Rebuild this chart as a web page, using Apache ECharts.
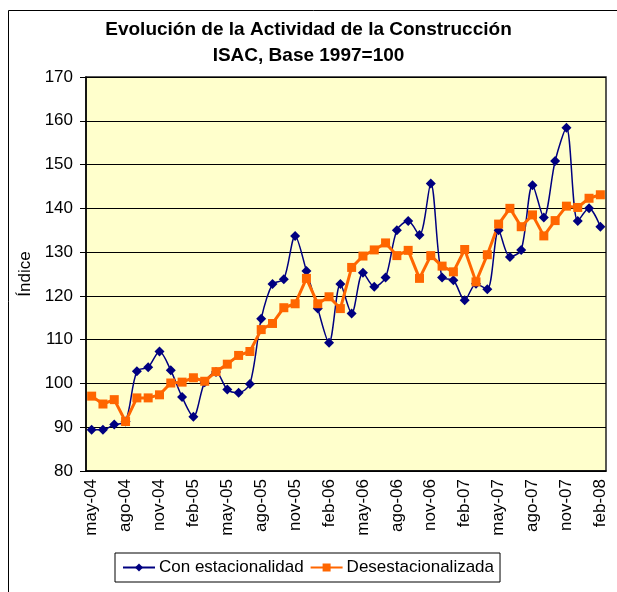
<!DOCTYPE html>
<html>
<head>
    <meta charset="utf-8">
    <title>ISAC</title>
    <script src="https://cdn.jsdelivr.net/npm/echarts@6/dist/echarts.min.js"></script>
</head>
<body style="margin:0;background:#fff">
    <div id="main" style="width: 617px;height:592px;"></div>
<script type="text/javascript">
    var myChart = echarts.init(document.getElementById('main'));

// meses may-04 .. feb-08
var meses = ['may-04','jun-04','jul-04','ago-04','sep-04','oct-04','nov-04','dic-04',
    'ene-05','feb-05','mar-05','abr-05','may-05','jun-05','jul-05','ago-05','sep-05','oct-05','nov-05','dic-05',
    'ene-06','feb-06','mar-06','abr-06','may-06','jun-06','jul-06','ago-06','sep-06','oct-06','nov-06','dic-06',
    'ene-07','feb-07','mar-07','abr-07','may-07','jun-07','jul-07','ago-07','sep-07','oct-07','nov-07','dic-07',
    'ene-08','feb-08'];

var conEstacionalidad = [89.4, 89.4, 90.6, 91.3, 102.8, 103.7, 107.3, 103.0,
    96.9, 92.4, 100.3, 102.6, 98.6, 97.9, 99.9, 114.8, 122.7, 123.8, 133.7, 125.7,
    117.1, 109.3, 122.7, 116.0, 125.3, 122.1, 124.2, 135.0, 137.1, 133.9, 145.7, 124.2,
    123.6, 119.0, 122.8, 121.5, 135.0, 128.9, 130.5, 145.3, 137.9, 150.8, 158.4, 137.1,
    140.0, 135.8];

var desestacionalizada = [97.1, 95.3, 96.3, 91.3, 96.7, 96.7, 97.4, 100.1,
    100.3, 101.3, 100.5, 102.7, 104.4, 106.4, 107.3, 112.3, 113.7, 117.3, 118.2, 124.0,
    118.2, 119.8, 117.1, 126.5, 129.1, 130.5, 132.1, 129.2, 130.4, 124.0, 129.2, 126.8,
    125.5, 130.6, 123.2, 129.4, 136.4, 140.0, 135.8, 138.5, 133.7, 137.2, 140.5, 140.2,
    142.3, 143.1];

var fuente = 'Liberation Sans, Arial, sans-serif';

option = {
    animation: false,
    textStyle: { fontFamily: fuente, color: '#000' },
    title: {
        text: 'Evolución de la Actividad de la Construcción\nISAC, Base 1997=100',
        left: 'center',
        top: 12,
        textStyle: { fontSize: 19, fontWeight: 'bold', lineHeight: 26, color: '#000', fontFamily: fuente }
    },
    graphic: [{
        type: 'rect',
        shape: { x: 8.5, y: 10.5, width: 640, height: 640 },
        style: { fill: 'none', stroke: '#000', lineWidth: 1 },
        silent: true
    }],
    legend: {
        left: 115,
        top: 553,
        padding: [6, 6, 6, 7],
        itemGap: 6,
        itemWidth: 32,
        itemHeight: 10,
        borderColor: '#000',
        borderWidth: 1,
        textStyle: { fontSize: 17, fontFamily: fuente, color: '#000', padding: [0, 0, 0, -1] },
        data: ['Con estacionalidad', 'Desestacionalizada']
    },
    grid: {
        left: 86,
        top: 77,
        width: 520,
        height: 394,
        show: true,
        backgroundColor: '#FFFFCC',
        borderColor: '#222',
        borderWidth: 1.5
    },
    xAxis: {
        type: 'category',
        data: meses,
        boundaryGap: true,
        axisLine: { lineStyle: { color: '#000', width: 1.5 } },
        axisTick: { interval: 2, length: 5, lineStyle: { color: '#000' } },
        axisLabel: {
            interval: 2,
            rotate: 90,
            fontSize: 17,
            fontFamily: fuente,
            color: '#000',
            margin: 8
        }
    },
    yAxis: {
        type: 'value',
        min: 80,
        max: 170,
        interval: 10,
        name: 'Índice',
        nameLocation: 'middle',
        nameGap: 48,
        nameTextStyle: { fontSize: 17, fontFamily: fuente, color: '#000' },
        axisLine: { show: true, lineStyle: { color: '#000', width: 1.5 } },
        axisTick: { show: true, length: 6, lineStyle: { color: '#000' } },
        axisLabel: { fontSize: 17, fontFamily: fuente, color: '#000', margin: 13 },
        splitLine: { lineStyle: { color: '#000', width: 1 } }
    },
    series: [
        {
            name: 'Con estacionalidad',
            type: 'line',
            smooth: 0.3,
            showAllSymbol: true,
            symbol: 'diamond',
            symbolSize: 10,
            itemStyle: { color: '#000080' },
            lineStyle: { color: '#000080', width: 1.5 },
            data: conEstacionalidad
        },
        {
            name: 'Desestacionalizada',
            type: 'line',
            showAllSymbol: true,
            symbol: 'rect',
            symbolSize: 9,
            itemStyle: { color: '#FF6600' },
            lineStyle: { color: '#FF6600', width: 3 },
            data: desestacionalizada
        }
    ]
};

myChart.setOption(option);
</script>
</body>
</html>
